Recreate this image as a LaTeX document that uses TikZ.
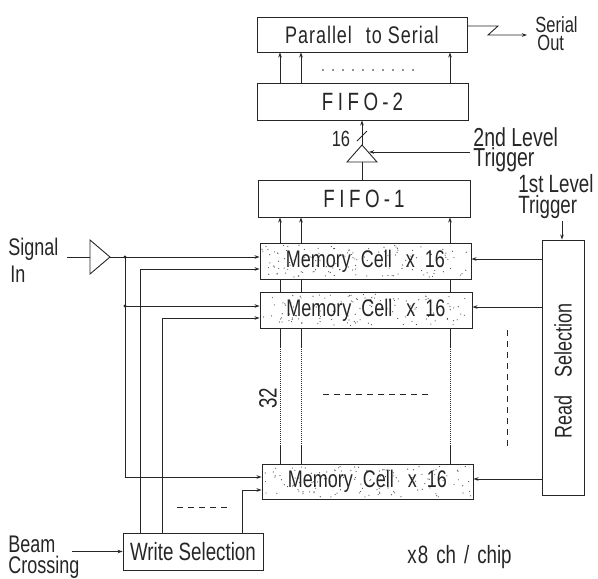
\documentclass[tikz,border=0pt]{standalone}
\usepackage{fontspec}
\setmainfont{Liberation Sans}[FakeStretch=0.75]
\newfontfamily\spacedfont{Liberation Sans}[FakeStretch=0.75,LetterSpace=18]
\newfontfamily\widefont{Liberation Sans}[FakeStretch=0.75,LetterSpace=4]
\usetikzlibrary{arrows.meta,backgrounds}
\newcommand\mystipple[4]{%
  \foreach \k in {1,...,130}{%
    \pgfmathsetmacro\xx{#1+2+rnd*(#3-#1-4)}%
    \pgfmathsetmacro\yy{#2+2+rnd*(#4-#2-4)}%
    \fill[black!70] (\xx,\yy) circle (0.6pt);}}
\begin{document}
\begin{tikzpicture}[x=1pt,y=-1pt,line width=0.9pt,color=black!85,
  box/.style={draw,rectangle,inner sep=0pt},
  arr/.style={-{Stealth[length=5pt,width=3.5pt]}},
  lbl/.style={inner sep=0pt,font=\fontsize{24}{26}\selectfont},
  two/.style={inner sep=0pt,align=left,anchor=north west},
  boxtxt/.style={font=\fontsize{24}{25}\selectfont},
  fine/.style={line width=0.6pt,dash pattern=on 0.8pt off 1.2pt},
  dsh/.style={dash pattern=on 6pt off 5pt}]
\useasboundingbox (0,0) rectangle (598,579);
\pgfmathsetseed{7}
% boxes
\node[box,minimum width=210pt,minimum height=35pt,font=\fontsize{24}{25}\widefont] (p2s) at (362,34.5) {Parallel\hspace{14pt}to\hspace{6pt}Serial};
\node[box,minimum width=211pt,minimum height=37pt,font=\fontsize{25}{26}\spacedfont] (fifo2) at (362.5,101.5) {FIFO\,-\,2};
\node[box,minimum width=212pt,minimum height=37pt,font=\fontsize{25}{26}\spacedfont] (fifo1) at (364,198.5) {FIFO\,-\,1};
\node[box,minimum width=211pt,minimum height=36pt,boxtxt] (mc1) at (365.5,261) {Memory\hspace{10pt}Cell\hspace{14pt}x\hspace{10pt}16};
\node[box,minimum width=212pt,minimum height=36pt,boxtxt] (mc2) at (366,310) {Memory\hspace{10pt}Cell\hspace{14pt}x\hspace{10pt}16};
\node[box,minimum width=211pt,minimum height=35pt,boxtxt] (mc3) at (367.5,481.5) {Memory\hspace{10pt}Cell\hspace{14pt}x\hspace{10pt}16};
\node[box,minimum width=42pt,minimum height=255pt] (rs) at (563,367.5) {};
\node[font=\fontsize{24}{25}\selectfont,rotate=90] (rstxt) at (563,371) {Read\hspace{18pt}Selection};
\node[box,minimum width=140pt,minimum height=37pt,font=\fontsize{25}{26}\selectfont] (ws) at (193,551.5) {Write Selection};
\begin{scope}[on background layer]
\mystipple{260}{243}{471}{279}
\mystipple{260}{292}{472}{328}
\mystipple{262}{464}{473}{499}
\end{scope}
% labels
\node[two,font=\fontsize{24}{27}\selectfont] (lsig) at (8,238) {Signal\\\hspace{2pt}In};
\node[two,font=\fontsize{24}{21}\selectfont] (lbeam) at (8,536) {Beam\\Crossing};
\node[two,font=\fontsize{22}{18.5}\selectfont] (lser) at (535,16) {Serial\\\hspace{2pt}Out};
\node[two,font=\fontsize{26}{20.5}\selectfont] (l2a) at (473,127) {2nd Level\\Trigger};
\node[two,font=\fontsize{25}{20.5}\selectfont] (l1a) at (518,174) {1st Level\\Trigger};
\node[lbl,anchor=base west,font=\fontsize{25}{26}\selectfont] (lch) at (407,563) {x\hspace{1pt}8\hspace{8pt}ch\hspace{8pt}/\hspace{8pt}chip};
\node[lbl,font=\fontsize{22}{24}\selectfont] (l16) at (341,139) {16};
\node[lbl,rotate=90,font=\fontsize{25}{26}\selectfont] (l32) at (268,398) {32};
% column coordinates
\coordinate (k1) at (280,0);
\coordinate (k2) at (301,0);
\coordinate (k3) at (450,0);
\coordinate (d1) at (0,347);
\coordinate (d2) at (0,446);
\foreach \k in {k1,k2,k3}{
  \draw[arr] (fifo2.north -| \k) -- (p2s.south -| \k);
  \draw[arr] (mc1.north -| \k) -- (fifo1.south -| \k);
  \draw (mc1.south -| \k) -- (mc2.north -| \k);
  \draw (mc2.south -| \k) -- (d1 -| \k);
  \draw[fine] (d1 -| \k) -- (d2 -| \k);
  \draw (d2 -| \k) -- (mc3.north -| \k);
}
\foreach \i in {0,...,9} \fill (323+10*\i,70) circle (0.8pt);
% second-level trigger amplifier
\coordinate (a2t) at (362,145);
\coordinate (a2l) at (347,162);
\coordinate (a2r) at (377,162);
\draw (a2t) -- (a2l) -- (a2r) -- cycle;
\draw (fifo1.north -| a2t) -- (a2t |- a2l);
\draw[arr] (a2t) -- (a2t |- fifo2.south);
\draw (357,141) -- (367,131);
\coordinate (t2) at (470,152);
\draw[arr] (t2) -- (369,152);
% first-level trigger
\coordinate (t1) at (562,221);
\draw[arr] (t1) -- (t1 |- rs.north);
% serial out
\coordinate (s1) at (498,26);
\coordinate (s2) at (488,35);
\coordinate (s3) at (527,35);
\draw[arr] (p2s.east |- s1) -- (s1) -- (s2) -- (s3);
% read selection arrows
\coordinate (r1) at (0,259);
\coordinate (r2) at (0,307);
\coordinate (r3) at (0,479);
\draw[arr] (rs.west |- r1) -- (mc1.east |- r1);
\draw[arr] (rs.west |- r2) -- (mc2.east |- r2);
\draw[arr] (rs.west |- r3) -- (mc3.east |- r3);
% signal in
\coordinate (sin) at (67,257);
\coordinate (a1t) at (90,240);
\coordinate (a1b) at (90,274);
\coordinate (a1o) at (110,257);
\draw (sin) -- (sin -| a1t);
\draw (a1t) -- (a1o) -- (a1b) -- cycle;
\coordinate (j1) at (125,257);
\coordinate (j2) at (125,306);
\coordinate (c1) at (125,477);
\draw (a1o) -- (j1);
\draw[arr] (j1) -- (j1 -| mc1.west);
\draw[arr] (j1) -- (c1) -- (c1 -| mc3.west);
\draw[arr] (j2) -- (j2 -| mc2.west);
\fill (j1) circle (1.6pt);
\fill (j2) circle (1.6pt);
% write selection lines
\coordinate (w1) at (140,269);
\coordinate (w2) at (162,318);
\coordinate (w3) at (242,490);
\draw[arr] (w1 |- ws.north) -- (w1) -- (w1 -| mc1.west);
\draw[arr] (w2 |- ws.north) -- (w2) -- (w2 -| mc2.west);
\draw[arr] (w3 |- ws.north) -- (w3) -- (w3 -| mc3.west);
% beam crossing
\coordinate (bc) at (72,551.5);
\draw[arr] (bc) -- (ws.west);
% dashed continuation marks
\draw[dsh] (323,394) -- (432,394);
\draw[dsh] (507,330) -- (507,448);
\draw[dsh] (177,507) -- (228,507);
\end{tikzpicture}
\end{document}
